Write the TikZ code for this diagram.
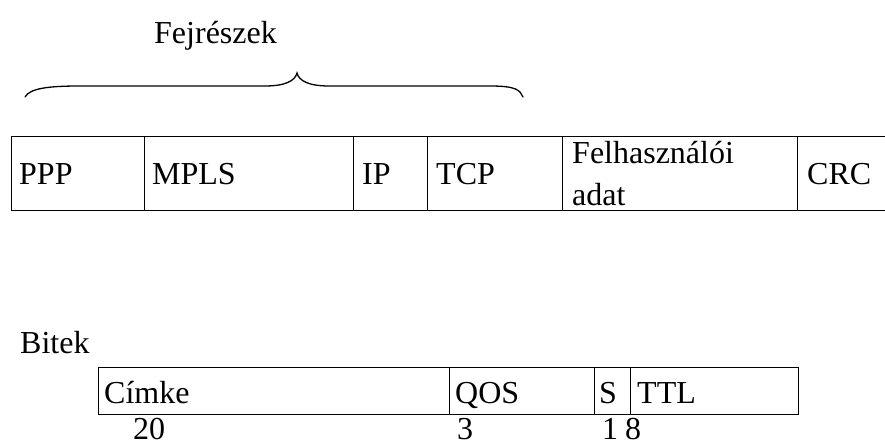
\documentclass[tikz,border=0pt]{standalone}
\usepackage{fontspec}
\setmainfont{Liberation Serif}
\begin{document}
\begin{tikzpicture}[x=1pt,y=-1pt,
  cell/.style={draw,line width=1.4pt,rectangle,inner sep=0pt,anchor=north west},
  lbl/.style={inner sep=0pt,anchor=base west,font=\fontsize{32}{38}\selectfont}]
\useasboundingbox (0,0) rectangle (885,446);

% heading and brace over the header fields
\node[lbl] (fej) at (154,44) {Fejrészek};
\draw[line width=1.3pt,line cap=round]
  (25,97) .. controls (30,88) and (50,86) .. (80,86) -- (265,86)
  .. controls (285,86) and (295,81) .. (297,73)
  .. controls (299,81) and (309,86) .. (329,86) -- (490,86)
  .. controls (516,86) and (520,90) .. (523,97);

% frame fields
\node[cell,minimum width=133pt,minimum height=74pt] (ppp)  at (11,136)  {};
\node[cell,minimum width=209pt,minimum height=74pt] (mpls) at (144,136) {};
\node[cell,minimum width=74pt, minimum height=74pt] (ip)   at (353,136) {};
\node[cell,minimum width=135pt,minimum height=74pt] (tcp)  at (427,136) {};
\node[cell,minimum width=235pt,minimum height=74pt] (usr)  at (562,136) {};
\node[cell,minimum width=110pt,minimum height=74pt] (crc)  at (797,136) {};

\node[lbl] (tppp)  at (19,185)  {PPP};
\node[lbl] (tmpls) at (152,185) {MPLS};
\node[lbl] (tip)   at (362,185) {IP};
\node[lbl] (ttcp)  at (436,185) {TCP};
\node[lbl] (tusr1) at (572,164) {Felhasználói};
\node[lbl] (tusr2) at (572,206) {adat};
\node[lbl] (tcrc)  at (807,185) {CRC};

% MPLS header fields with bit widths
\node[lbl] (bitek) at (20,353) {Bitek};
\node[cell,minimum width=351pt,minimum height=47pt] (cimke) at (98,367)  {};
\node[cell,minimum width=145pt,minimum height=47pt] (qos)   at (449,367) {};
\node[cell,minimum width=36pt, minimum height=47pt] (s)     at (594,367) {};
\node[cell,minimum width=168pt,minimum height=47pt] (ttl)   at (630,367) {};

\node[lbl] (tcimke) at (104,403) {Címke};
\node[lbl] (tqos)   at (455,403) {QOS};
\node[lbl] (ts)     at (599,403) {S};
\node[lbl] (tttl)   at (637,403) {TTL};

\node[lbl] (n20) at (133,439) {20};
\node[lbl] (n3)  at (457,439) {3};
\node[lbl] (n1)  at (602,439) {1};
\node[lbl] (n8)  at (625,439) {8};
\end{tikzpicture}
\end{document}
